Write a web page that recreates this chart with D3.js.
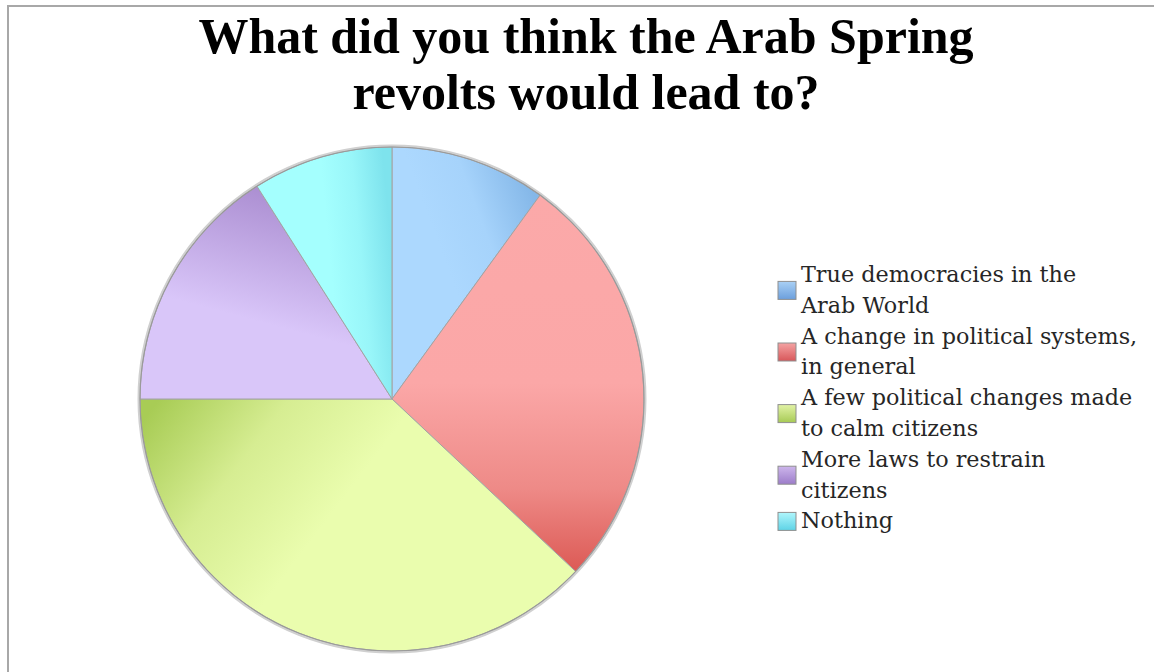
<!DOCTYPE html>
<html>
<head>
<meta charset="utf-8">
<script src="https://cdn.jsdelivr.net/npm/d3@7"></script>
<style>
  html, body { margin: 0; padding: 0; background: #fff; }
  svg { display: block; }
</style>
</head>
<body>
<svg id="chart" width="1154" height="672"></svg>
<script>
// Survey answers, in drawing order (clockwise from 12 o'clock)
const categories = [
  "True democracies in the Arab World",
  "A change in political systems, in general",
  "A few political changes made to calm citizens",
  "More laws to restrain citizens",
  "Nothing"
];
// Wrapped legend text for each answer
const legendLines = [
  ["True democracies in the", "Arab World"],
  ["A change in political systems,", "in general"],
  ["A few political changes made", "to calm citizens"],
  ["More laws to restrain", "citizens"],
  ["Nothing"]
];
// Share of respondents (%)
const values = [10, 27, 38, 16, 9];
const titleLines = ["What did you think the Arab Spring", "revolts would lead to?"];

// Slice gradients: [x1, y1, x2, y2] in bounding-box units plus colour stops
const sliceFills = [
  { dir: [0.45, 0.6, 1, 0.25], stops: [[0, "#acd8fe"], [0.45, "#a6d3fb"], [1, "#84b7e8"]] },
  { dir: [0, 0, 0, 1], stops: [[0, "#fba9a9"], [0.5, "#fba7a7"], [0.78, "#ee8a87"], [1, "#dc5a55"]] },
  { dir: [0.0, 0.1, 0.5, 0.32], stops: [[0, "#a8cc55"], [0.5, "#d6ed92"], [1, "#eafdae"]] },
  { dir: [0.6, 0.05, 0.42, 0.62], stops: [[0, "#ac8fd2"], [1, "#d9c6f9"]] },
  { dir: [0.55, 0.5, 1, 0.42], stops: [[0, "#a4fffe"], [0.5, "#98f6f9"], [1, "#7ee3ed"]] }
];
const swatchFills = [
  ["#a9d0f5", "#6c9fdc"],
  ["#f4a3a3", "#d8575a"],
  ["#e2f3a6", "#a7ca55"],
  ["#cdb6ec", "#9c7cc9"],
  ["#b0f6fc", "#5ed3e6"]
];

const svg = d3.select("#chart");
const defs = svg.append("defs");

// chart frame
svg.append("rect")
  .attr("x", 8).attr("y", 6).attr("width", 1200).attr("height", 720)
  .attr("fill", "none").attr("stroke", "#a8a8a8").attr("stroke-width", 2);

// title
const title = svg.append("text")
  .attr("text-anchor", "middle")
  .attr("font-family", "'Liberation Serif', 'DejaVu Serif', serif")
  .attr("font-weight", "bold")
  .attr("font-size", 50)
  .attr("fill", "#000");
title.selectAll("tspan").data(titleLines).join("tspan")
  .attr("x", 586)
  .attr("y", (d, i) => 53 + i * 56)
  .text(d => d);

// gradients
sliceFills.forEach((f, i) => {
  const g = defs.append("linearGradient").attr("id", "slice" + i)
    .attr("x1", f.dir[0]).attr("y1", f.dir[1]).attr("x2", f.dir[2]).attr("y2", f.dir[3]);
  f.stops.forEach(s => g.append("stop").attr("offset", s[0]).attr("stop-color", s[1]));
});
swatchFills.forEach((c, i) => {
  const g = defs.append("linearGradient").attr("id", "swatch" + i)
    .attr("x1", 0).attr("y1", 0).attr("x2", 0).attr("y2", 1);
  g.append("stop").attr("offset", 0).attr("stop-color", c[0]);
  g.append("stop").attr("offset", 1).attr("stop-color", c[1]);
});

// pie
const cx = 392, cy = 399, radius = 252;
const pie = d3.pie().sort(null).value(d => d).startAngle(0).endAngle(2 * Math.PI);
const arc = d3.arc().innerRadius(0).outerRadius(radius);
const pieG = svg.append("g").attr("transform", `translate(${cx},${cy})`);

pieG.append("circle").attr("r", radius + 1.5).attr("fill", "none")
  .attr("stroke", "#d0d0d0").attr("stroke-width", 2);

pieG.selectAll("path.slice")
  .data(pie(values))
  .join("path")
  .attr("class", "slice")
  .attr("d", arc)
  .attr("fill", (d, i) => `url(#slice${i})`)
  .attr("stroke", "#a3a3a3")
  .attr("stroke-width", 1);

pieG.append("circle").attr("r", radius).attr("fill", "none")
  .attr("stroke", "#9a9a9a").attr("stroke-width", 1.2);

// legend
const lineH = 30.8;
const legendX = 801, firstBaseline = 282;
const legend = svg.append("g")
  .attr("font-family", "'DejaVu Serif', 'Liberation Serif', serif")
  .attr("font-size", 22.3)
  .attr("fill", "#262626");

let lineIndex = 0;
legendLines.forEach((lines, i) => {
  const baselines = lines.map((_, k) => firstBaseline + (lineIndex + k) * lineH);
  const mid = d3.mean(baselines) - 7;
  legend.append("rect")
    .attr("x", 778).attr("y", mid - 9).attr("width", 18).attr("height", 18)
    .attr("fill", `url(#swatch${i})`)
    .attr("stroke", "#8f8f8f").attr("stroke-width", 1);
  const t = legend.append("text");
  t.selectAll("tspan").data(lines).join("tspan")
    .attr("x", legendX)
    .attr("y", (d, k) => baselines[k])
    .text(d => d);
  lineIndex += lines.length;
});
</script>
</body>
</html>
